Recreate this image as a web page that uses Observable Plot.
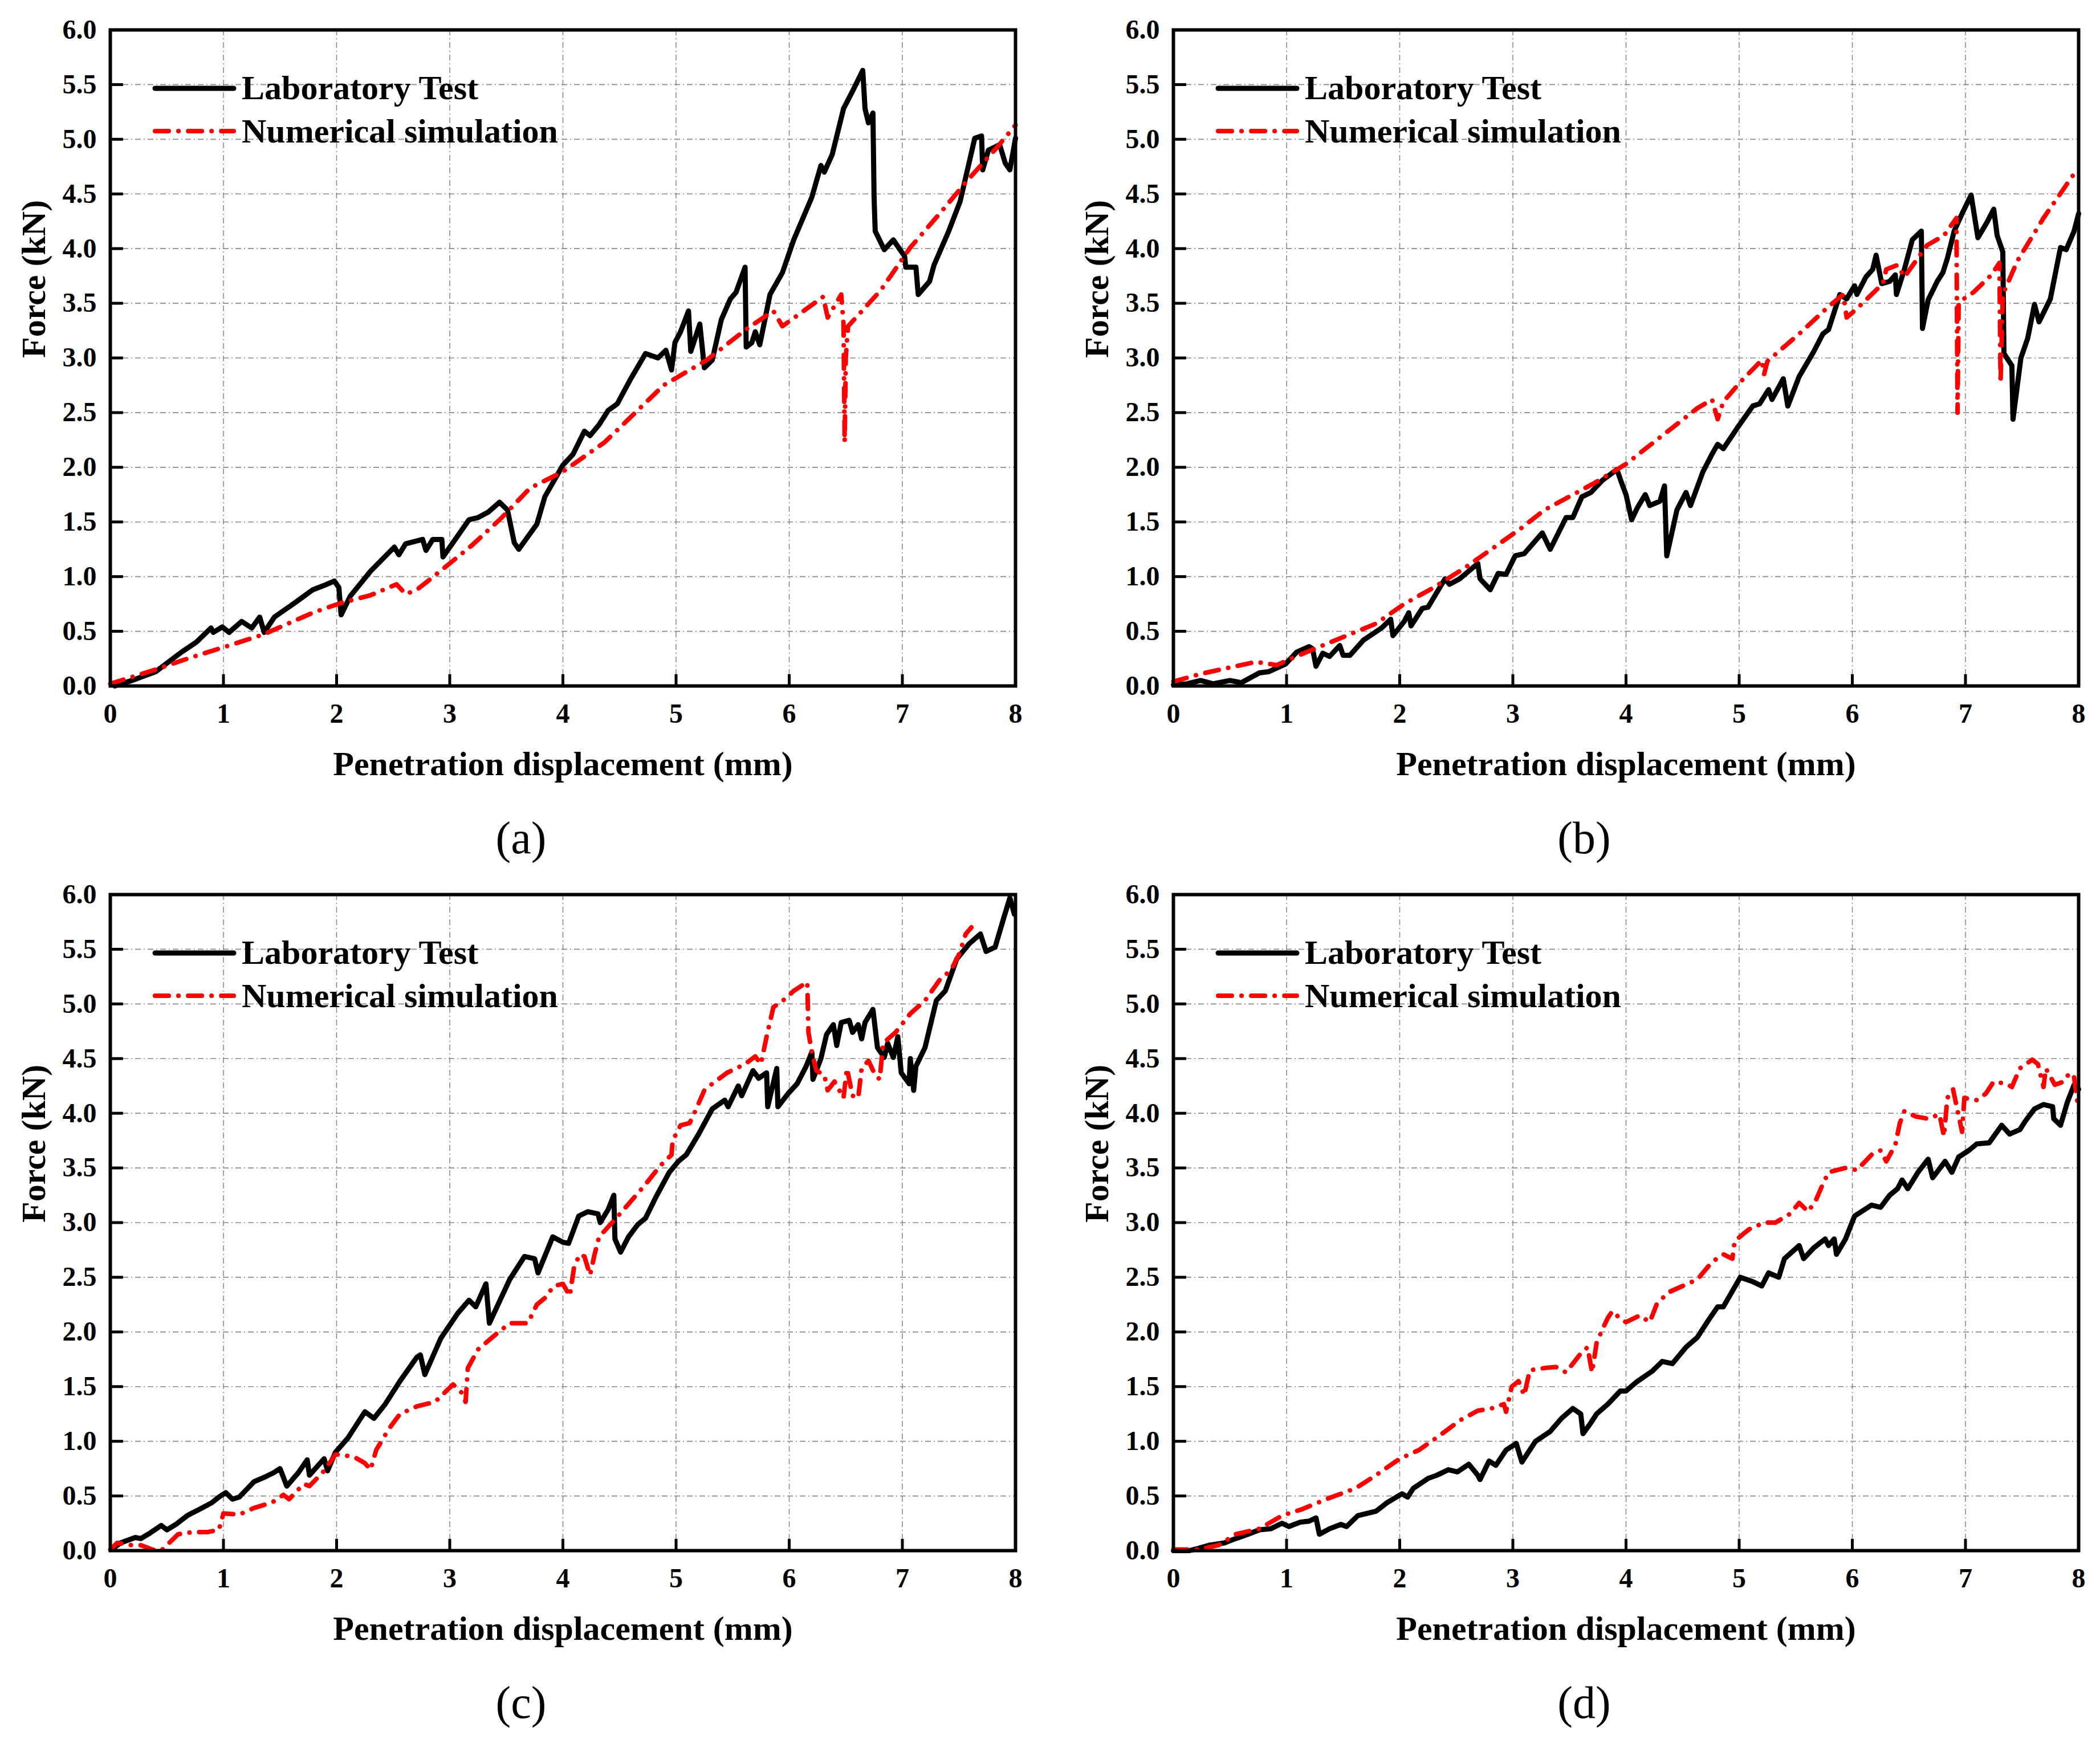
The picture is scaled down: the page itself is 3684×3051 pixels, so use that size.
<!DOCTYPE html>
<html>
<head>
<meta charset="utf-8">
<script src="https://cdn.jsdelivr.net/npm/d3@7"></script>
<script src="https://cdn.jsdelivr.net/npm/@observablehq/plot@0.6"></script>
<style>
  body { margin: 0; background: #fff; }
  #page { position: relative; width: 3684px; height: 3051px; font-family: "Liberation Serif", "Times New Roman", serif; }
  .panel { position: absolute; width: 1842px; height: 1525px; }
  .legend { position: absolute; left: 260px; top: 110px; overflow: visible; }
  .caption { position: absolute; left: 914px; top: 1470px; transform: translate(-50%, -50%); font-size: 80px; font-weight: normal; }
</style>
</head>
<body>
<div id="page"></div>
<script>
// ticks
const xTicks = [0, 1, 2, 3, 4, 5, 6, 7, 8];
const yTicks = [0, 0.5, 1, 1.5, 2, 2.5, 3, 3.5, 4, 4.5, 5, 5.5, 6];

// [displacement mm, force kN]
const labA = [[0.04,0],[0.19,0.05],[0.40,0.13],[0.63,0.31],[0.76,0.40],[0.89,0.53],[0.91,0.49],[0.99,0.54],[1.05,0.49],[1.16,0.59],[1.25,0.53],[1.32,0.63],[1.36,0.49],[1.45,0.63],[1.63,0.76],[1.79,0.88],[1.89,0.92],[1.98,0.96],[2.02,0.90],[2.04,0.65],[2.12,0.82],[2.30,1.05],[2.51,1.27],[2.55,1.20],[2.61,1.30],[2.76,1.34],[2.79,1.24],[2.85,1.34],[2.93,1.34],[2.94,1.18],[3.17,1.52],[3.25,1.54],[3.34,1.59],[3.44,1.68],[3.51,1.61],[3.57,1.31],[3.61,1.25],[3.77,1.48],[3.84,1.73],[4.0,2.02],[4.09,2.12],[4.19,2.33],[4.24,2.29],[4.32,2.39],[4.40,2.52],[4.48,2.58],[4.60,2.81],[4.73,3.04],[4.84,3.0],[4.91,3.07],[4.96,2.89],[4.99,3.14],[5.04,3.24],[5.11,3.43],[5.13,3.06],[5.21,3.31],[5.25,2.91],[5.32,2.98],[5.40,3.35],[5.48,3.54],[5.53,3.60],[5.61,3.83],[5.62,3.10],[5.67,3.14],[5.70,3.24],[5.74,3.12],[5.83,3.58],[5.94,3.78],[6.04,4.08],[6.20,4.47],[6.28,4.76],[6.31,4.70],[6.38,4.86],[6.48,5.28],[6.56,5.44],[6.65,5.63],[6.67,5.28],[6.70,5.15],[6.74,5.24],[6.75,4.47],[6.76,4.16],[6.84,3.99],[6.92,4.08],[7.02,3.93],[7.03,3.83],[7.12,3.83],[7.14,3.58],[7.24,3.70],[7.28,3.85],[7.41,4.16],[7.51,4.43],[7.64,5.01],[7.70,5.03],[7.71,4.72],[7.76,4.90],[7.86,4.95],[7.91,4.78],[7.95,4.72],[8.0,5.01]];
const numA = [[0,0.02],[0.40,0.15],[0.71,0.26],[0.99,0.35],[1.35,0.47],[1.79,0.67],[2.04,0.76],[2.30,0.83],[2.53,0.93],[2.61,0.84],[2.71,0.88],[2.94,1.07],[3.2,1.29],[3.46,1.54],[3.71,1.81],[4.0,1.96],[4.37,2.23],[4.89,2.75],[5.27,2.98],[5.63,3.27],[5.86,3.43],[5.94,3.29],[6.30,3.56],[6.34,3.37],[6.46,3.58],[6.48,3.31],[6.49,2.23],[6.50,3.0],[6.52,3.29],[6.81,3.62],[7.07,4.01],[7.33,4.32],[7.58,4.63],[7.84,4.93],[8.0,5.13]];

const labB = [[0,0.01],[0.12,0.02],[0.24,0.05],[0.35,0.02],[0.50,0.05],[0.60,0.03],[0.76,0.12],[0.84,0.13],[0.99,0.20],[1.09,0.31],[1.20,0.36],[1.23,0.34],[1.26,0.18],[1.32,0.30],[1.38,0.27],[1.47,0.37],[1.50,0.28],[1.56,0.28],[1.68,0.42],[1.84,0.53],[1.92,0.61],[1.94,0.46],[2.04,0.59],[2.08,0.67],[2.10,0.55],[2.20,0.71],[2.25,0.72],[2.40,0.98],[2.44,0.93],[2.53,0.98],[2.69,1.12],[2.71,0.98],[2.80,0.88],[2.87,1.03],[2.94,1.02],[3.02,1.19],[3.10,1.21],[3.26,1.40],[3.33,1.25],[3.47,1.54],[3.53,1.54],[3.61,1.73],[3.69,1.77],[3.79,1.88],[3.92,1.98],[3.96,1.86],[4.0,1.75],[4.05,1.52],[4.10,1.63],[4.17,1.75],[4.21,1.65],[4.30,1.69],[4.34,1.83],[4.36,1.19],[4.45,1.61],[4.53,1.77],[4.57,1.65],[4.68,1.96],[4.76,2.12],[4.81,2.21],[4.86,2.17],[4.99,2.37],[5.12,2.56],[5.18,2.58],[5.26,2.71],[5.29,2.62],[5.39,2.81],[5.43,2.56],[5.53,2.83],[5.66,3.06],[5.74,3.22],[5.79,3.26],[5.89,3.58],[5.95,3.54],[6.02,3.66],[6.04,3.58],[6.12,3.74],[6.18,3.81],[6.21,3.94],[6.26,3.68],[6.33,3.70],[6.38,3.76],[6.39,3.58],[6.46,3.81],[6.53,4.08],[6.61,4.16],[6.62,3.27],[6.67,3.53],[6.75,3.70],[6.80,3.78],[6.84,3.91],[6.90,4.16],[6.97,4.32],[7.05,4.49],[7.11,4.10],[7.19,4.24],[7.25,4.36],[7.28,4.12],[7.33,3.97],[7.34,3.04],[7.41,2.93],[7.42,2.44],[7.49,3.00],[7.55,3.18],[7.61,3.49],[7.65,3.33],[7.75,3.54],[7.84,4.01],[7.89,3.99],[7.96,4.16],[8.0,4.32]];
const numB = [[0,0.04],[0.24,0.11],[0.50,0.17],[0.73,0.22],[0.86,0.20],[0.91,0.19],[1.02,0.24],[1.20,0.32],[1.53,0.46],[1.79,0.57],[2.04,0.75],[2.30,0.90],[2.56,1.07],[2.81,1.25],[3.07,1.44],[3.28,1.61],[3.46,1.71],[3.71,1.85],[4.0,2.03],[4.37,2.33],[4.63,2.54],[4.76,2.62],[4.81,2.44],[4.86,2.60],[5.02,2.79],[5.20,2.98],[5.22,2.85],[5.25,2.97],[5.53,3.22],[5.79,3.47],[5.92,3.58],[5.95,3.37],[6.04,3.45],[6.27,3.68],[6.30,3.81],[6.40,3.85],[6.46,3.74],[6.66,4.03],[6.81,4.12],[6.92,4.28],[6.93,2.50],[6.94,3.51],[7.07,3.60],[7.23,3.76],[7.30,3.87],[7.31,2.77],[7.33,3.58],[7.46,3.89],[7.69,4.28],[7.97,4.70],[8.0,4.73]];

const labC = [[0.01,0.01],[0.09,0.07],[0.22,0.12],[0.27,0.11],[0.35,0.16],[0.45,0.23],[0.50,0.19],[0.58,0.24],[0.68,0.32],[0.81,0.39],[0.90,0.44],[0.96,0.49],[1.02,0.53],[1.08,0.47],[1.14,0.49],[1.27,0.63],[1.38,0.68],[1.44,0.71],[1.50,0.75],[1.56,0.59],[1.66,0.71],[1.74,0.83],[1.76,0.69],[1.89,0.84],[1.92,0.73],[1.99,0.90],[2.10,1.03],[2.25,1.27],[2.33,1.21],[2.43,1.34],[2.56,1.55],[2.71,1.77],[2.74,1.79],[2.78,1.61],[2.92,1.94],[3.07,2.17],[3.17,2.29],[3.23,2.23],[3.32,2.44],[3.35,2.08],[3.53,2.48],[3.66,2.69],[3.75,2.67],[3.78,2.54],[3.91,2.87],[4.0,2.82],[4.05,2.81],[4.14,3.06],[4.22,3.10],[4.31,3.08],[4.33,3.0],[4.40,3.12],[4.45,3.25],[4.46,2.85],[4.51,2.73],[4.58,2.87],[4.66,2.98],[4.73,3.04],[4.83,3.25],[4.94,3.46],[5.02,3.56],[5.09,3.62],[5.20,3.81],[5.32,4.04],[5.43,4.12],[5.46,4.06],[5.55,4.25],[5.58,4.16],[5.68,4.39],[5.73,4.32],[5.80,4.37],[5.81,4.06],[5.89,4.41],[5.90,4.06],[5.99,4.18],[6.07,4.27],[6.15,4.43],[6.20,4.56],[6.21,4.31],[6.28,4.50],[6.33,4.72],[6.39,4.81],[6.42,4.62],[6.46,4.83],[6.53,4.85],[6.56,4.74],[6.61,4.81],[6.64,4.68],[6.67,4.83],[6.74,4.95],[6.78,4.60],[6.84,4.51],[6.87,4.64],[6.92,4.51],[6.96,4.70],[6.99,4.37],[7.06,4.27],[7.07,4.50],[7.10,4.21],[7.12,4.43],[7.20,4.60],[7.30,5.03],[7.38,5.12],[7.48,5.41],[7.59,5.55],[7.69,5.64],[7.74,5.48],[7.82,5.52],[7.90,5.80],[7.95,5.97],[7.99,5.82]];
const numC = [[0,0.01],[0.06,0.07],[0.19,0.05],[0.27,0.05],[0.37,0.01],[0.45,0],[0.50,0.05],[0.60,0.15],[0.73,0.17],[0.86,0.17],[0.96,0.19],[1.0,0.34],[1.14,0.33],[1.27,0.39],[1.43,0.44],[1.53,0.51],[1.58,0.47],[1.71,0.61],[1.76,0.59],[1.89,0.73],[1.99,0.88],[2.15,0.86],[2.25,0.80],[2.30,0.74],[2.35,0.92],[2.46,1.11],[2.56,1.25],[2.71,1.32],[2.87,1.36],[2.97,1.46],[3.03,1.52],[3.11,1.44],[3.14,1.36],[3.16,1.67],[3.25,1.84],[3.41,1.98],[3.53,2.08],[3.69,2.08],[3.77,2.25],[3.84,2.31],[3.92,2.42],[4.0,2.44],[4.06,2.33],[4.10,2.60],[4.15,2.71],[4.19,2.69],[4.24,2.52],[4.28,2.71],[4.32,2.87],[4.47,3.04],[4.58,3.17],[4.73,3.35],[4.86,3.52],[4.96,3.62],[4.97,3.75],[5.04,3.89],[5.12,3.91],[5.17,4.02],[5.25,4.21],[5.32,4.27],[5.45,4.37],[5.61,4.45],[5.70,4.52],[5.75,4.45],[5.80,4.70],[5.86,4.97],[5.97,5.05],[6.04,5.12],[6.16,5.20],[6.17,4.74],[6.20,4.56],[6.24,4.39],[6.31,4.35],[6.34,4.21],[6.40,4.29],[6.48,4.14],[6.51,4.41],[6.56,4.16],[6.61,4.14],[6.64,4.41],[6.70,4.48],[6.76,4.35],[6.80,4.31],[6.83,4.64],[6.94,4.74],[7.07,4.91],[7.20,5.03],[7.33,5.22],[7.43,5.31],[7.50,5.45],[7.56,5.64],[7.61,5.70]];

const labD = [[0,0],[0.14,0],[0.22,0.02],[0.32,0.05],[0.45,0.07],[0.55,0.11],[0.66,0.15],[0.76,0.19],[0.86,0.20],[0.96,0.25],[1.02,0.22],[1.12,0.26],[1.20,0.27],[1.26,0.30],[1.29,0.15],[1.38,0.20],[1.48,0.24],[1.53,0.22],[1.63,0.32],[1.79,0.36],[1.89,0.44],[2.02,0.52],[2.07,0.49],[2.12,0.57],[2.25,0.66],[2.33,0.69],[2.43,0.74],[2.51,0.72],[2.61,0.79],[2.69,0.69],[2.71,0.65],[2.79,0.82],[2.85,0.78],[2.94,0.92],[3.03,0.98],[3.08,0.81],[3.20,1.00],[3.33,1.09],[3.43,1.21],[3.53,1.30],[3.60,1.25],[3.62,1.07],[3.69,1.17],[3.74,1.25],[3.84,1.34],[3.95,1.46],[4.0,1.46],[4.09,1.54],[4.23,1.64],[4.32,1.73],[4.41,1.71],[4.53,1.86],[4.63,1.95],[4.73,2.11],[4.81,2.23],[4.86,2.23],[5.01,2.50],[5.12,2.46],[5.20,2.42],[5.26,2.54],[5.35,2.50],[5.40,2.67],[5.53,2.79],[5.57,2.67],[5.66,2.77],[5.76,2.85],[5.79,2.79],[5.84,2.85],[5.86,2.71],[5.94,2.85],[6.02,3.06],[6.17,3.16],[6.25,3.14],[6.33,3.25],[6.40,3.31],[6.44,3.39],[6.49,3.31],[6.58,3.46],[6.67,3.58],[6.71,3.41],[6.82,3.56],[6.88,3.46],[6.94,3.60],[7.03,3.66],[7.10,3.72],[7.21,3.73],[7.32,3.89],[7.39,3.81],[7.48,3.85],[7.53,3.93],[7.61,4.04],[7.69,4.08],[7.77,4.06],[7.78,3.95],[7.84,3.89],[7.90,4.10],[7.96,4.26],[8.0,4.22]];
const numD = [[0,0.01],[0.22,0.01],[0.40,0.05],[0.55,0.15],[0.76,0.20],[0.96,0.32],[1.14,0.38],[1.35,0.47],[1.61,0.57],[1.79,0.69],[2.0,0.84],[2.17,0.92],[2.35,1.05],[2.53,1.19],[2.69,1.28],[2.81,1.30],[2.92,1.34],[2.94,1.27],[2.99,1.50],[3.05,1.55],[3.10,1.42],[3.15,1.65],[3.28,1.67],[3.38,1.68],[3.47,1.63],[3.59,1.79],[3.66,1.86],[3.70,1.63],[3.74,1.90],[3.79,2.02],[3.84,2.13],[3.88,2.19],[3.96,2.11],[4.0,2.09],[4.12,2.15],[4.21,2.09],[4.27,2.25],[4.37,2.36],[4.50,2.42],[4.63,2.48],[4.76,2.64],[4.86,2.71],[4.94,2.67],[4.96,2.83],[5.04,2.90],[5.09,2.94],[5.22,3.0],[5.32,3.0],[5.45,3.08],[5.53,3.18],[5.61,3.10],[5.68,3.21],[5.73,3.33],[5.79,3.46],[5.94,3.50],[6.04,3.48],[6.17,3.62],[6.25,3.66],[6.30,3.56],[6.38,3.71],[6.42,3.91],[6.46,4.02],[6.56,3.97],[6.67,3.95],[6.77,3.99],[6.81,3.79],[6.84,4.14],[6.89,4.22],[6.97,3.83],[6.99,4.14],[7.10,4.12],[7.18,4.18],[7.25,4.29],[7.36,4.27],[7.41,4.24],[7.48,4.41],[7.59,4.49],[7.64,4.45],[7.69,4.24],[7.71,4.41],[7.79,4.26],[7.87,4.29],[7.92,4.37],[7.96,4.33],[7.99,4.10]];

const captions = ["(a)", "(b)", "(c)", "(d)"];
const seriesNames = ["Laboratory Test", "Numerical simulation"];

const panels = [
  {lab: labA, num: numA, left: 0, top: 0},
  {lab: labB, num: numB, left: 1865, top: 0},
  {lab: labC, num: numC, left: 0, top: 1517},
  {lab: labD, num: numD, left: 1865, top: 1517}
];

const RED_DASH = "24,17,0.1,17";
const gridStyle = {stroke: "#8a8a8a", strokeOpacity: 1, strokeWidth: 1.6, strokeDasharray: "10,5,2,5"};

panels.forEach((p, i) => {
  const div = d3.select("#page").append("div")
    .attr("class", "panel")
    .style("left", p.left + "px")
    .style("top", p.top + "px");

  const chart = Plot.plot({
    width: 1817,
    height: 1403,
    marginLeft: 193,
    marginRight: 36,
    marginTop: 52,
    marginBottom: 200,
    x: {domain: [0, 8]},
    y: {domain: [0, 6]},
    style: {
      fontFamily: "'Liberation Serif', 'Times New Roman', serif",
      fontSize: "48px",
      fontWeight: "bold",
      color: "#000",
      background: "transparent",
      overflow: "visible"
    },
    marks: [
      Plot.gridX(xTicks, gridStyle),
      Plot.gridY(yTicks, gridStyle),
      // inward major ticks
      Plot.ruleX(xTicks, {x: d => d, y1: 0, y2: 0.105, stroke: "#000", strokeWidth: 5}),
      Plot.ruleY(yTicks, {y: d => d, x1: 0, x2: 0.115, stroke: "#000", strokeWidth: 5}),
      Plot.axisX(xTicks, {tickSize: 0, tickPadding: 30, tickFormat: d => d, label: null}),
      Plot.axisY(yTicks, {tickSize: 0, tickPadding: 24, tickFormat: d3.format(".1f"), label: null}),
      Plot.line(p.lab, {x: d => d[0], y: d => d[1], stroke: "#000", strokeWidth: 9, strokeLinejoin: "round", strokeLinecap: "round"}),
      Plot.line(p.num, {x: d => d[0], y: d => d[1], stroke: "#ff0000", strokeWidth: 8,
        strokeDasharray: RED_DASH, strokeLinecap: "round", strokeLinejoin: "round"}),
      Plot.frame({stroke: "#000", strokeWidth: 6}),
      Plot.text(["Penetration displacement (mm)"], {text: d => d, frameAnchor: "bottom", dy: 156, fontSize: 60, fontWeight: "bold"}),
      Plot.text(["Force (kN)"], {text: d => d, frameAnchor: "left", dx: -134, rotate: -90, fontSize: 60, fontWeight: "bold"})
    ]
  });
  div.append(() => chart);

  // legend inside the plot area
  const leg = div.append("svg")
    .attr("class", "legend")
    .attr("width", 800)
    .attr("height", 170)
    .style("font-family", "'Liberation Serif', 'Times New Roman', serif")
    .style("font-weight", "bold")
    .style("font-size", "60px");
  leg.append("line").attr("x1", 12).attr("x2", 150).attr("y1", 45).attr("y2", 45)
    .attr("stroke", "#000").attr("stroke-width", 9).attr("stroke-linecap", "round");
  leg.append("line").attr("x1", 12).attr("x2", 150).attr("y1", 120).attr("y2", 120)
    .attr("stroke", "#ff0000").attr("stroke-width", 8).attr("stroke-linecap", "round")
    .attr("stroke-dasharray", RED_DASH);
  leg.append("text").attr("x", 164).attr("y", 64).text(seriesNames[0]);
  leg.append("text").attr("x", 164).attr("y", 140).text(seriesNames[1]);

  div.append("div").attr("class", "caption").text(captions[i]);
});
</script>
</body>
</html>
